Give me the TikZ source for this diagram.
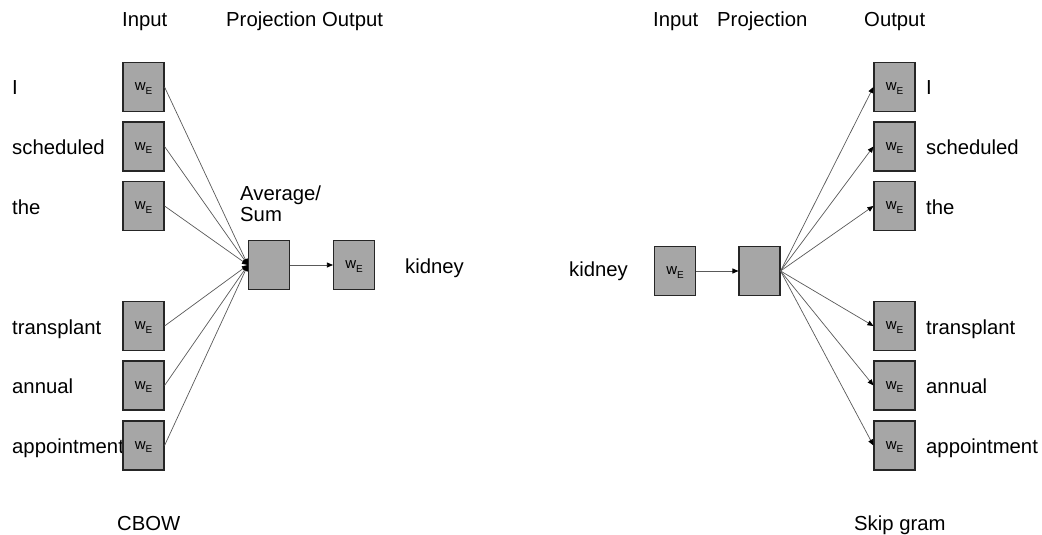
\documentclass[tikz,border=0pt]{standalone}
\usepackage{fontspec}
\setmainfont{Liberation Sans}
\usetikzlibrary{arrows.meta}
\begin{document}
\begin{tikzpicture}[x=1pt,y=-1pt,
  vecbox/.style={draw=black!85,line width=1.1pt,fill=black!35,minimum width=41pt,minimum height=49pt,inner sep=0pt},
  lbl/.style={anchor=base west,inner sep=0pt,font=\fontsize{20.3}{20.3}\selectfont},
  link/.style={draw=black!65,line width=0.7pt,-{Triangle[length=6pt,width=5pt,color=black]}}
]
\useasboundingbox (0,0) rectangle (1042,535);
\newcommand{\wE}{\fontsize{15}{15}\selectfont w\raisebox{-3.5pt}[0pt][0pt]{\fontsize{10}{10}\selectfont E}}

% ---- CBOW ----
\node[lbl] (inL) at (122,27) {Input};
\node[lbl] (poL) at (226,27) {Projection Output};
\foreach \n/\y/\t in {a/87/I,b/146.5/scheduled,c/206/the,d/326/transplant,e/385.5/annual,f/445.5/appointment}{
  \node[lbl] (lw\n) at (12,\y+8) {\t};
  \node[vecbox] (li\n) at (143.5,\y) {\wE};
}
\node[vecbox] (lp) at (269,265) {};
\node[vecbox] (lo) at (354,265) {\wE};
\node[lbl] (avg) at (240,200) {Average/};
\node[lbl] (sum) at (240,221) {Sum};
\node[lbl] (kidL) at (405,273) {kidney};
\node[lbl] (cbow) at (117,530) {CBOW};
\foreach \n in {a,b,c,d,e,f}{
  \draw[link] (li\n.east) -- (lp.west);
}
\draw[link] (lp.east) -- (lo.west);

% ---- Skip gram ----
\node[lbl] (inR) at (653,27) {Input};
\node[lbl] (prR) at (717,27) {Projection};
\node[lbl] (ouR) at (864,27) {Output};
\node[lbl] (kidR) at (569,276) {kidney};
\node[vecbox] (ri) at (675,271) {\wE};
\node[vecbox] (rp) at (759.5,271) {};
\draw[link] (ri.east) -- (rp.west);
\foreach \n/\y/\t in {a/87/I,b/146.5/scheduled,c/206/the,d/326/transplant,e/385.5/annual,f/445.5/appointment}{
  \node[vecbox] (ro\n) at (894.5,\y) {\wE};
  \node[lbl] (rw\n) at (926,\y+8) {\t};
  \draw[link] (rp.east) -- (ro\n.west);
}
\node[lbl] (skip) at (854,530) {Skip gram};
\end{tikzpicture}
\end{document}
